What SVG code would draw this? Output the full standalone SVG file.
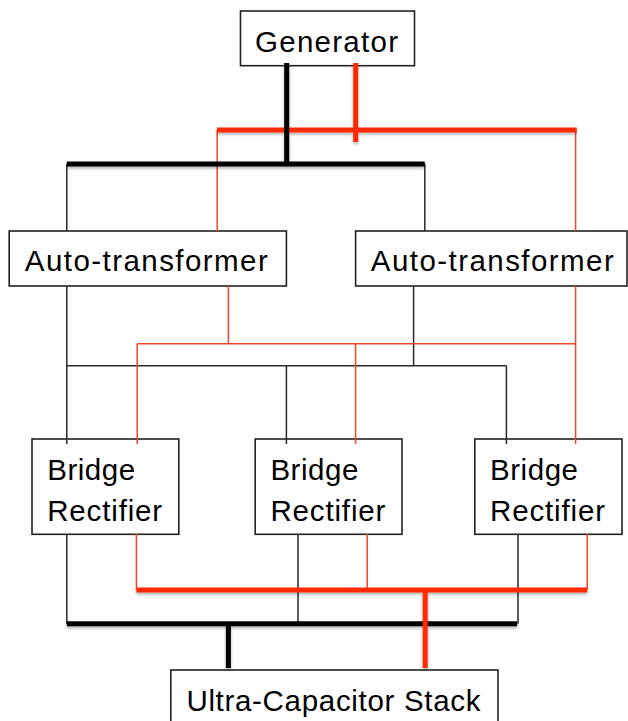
<svg xmlns="http://www.w3.org/2000/svg" width="628" height="721" viewBox="0 0 628 721">
  <style>
    .box { fill: #ffffff; stroke: #222222; stroke-width: 1.6; }
    .lbl { font-family: "Liberation Sans", Arial, sans-serif; font-size: 29.5px; fill: #000000; }
    .thinB { fill: none; stroke: #2a2a2a; stroke-width: 1.5; }
    .thinR { fill: none; stroke: #f2452a; stroke-width: 1.5; }
    .thickB { fill: none; stroke: #000000; stroke-width: 5; }
    .thickR { fill: none; stroke: #ff2a00; stroke-width: 5; }
  </style>
  <defs>
    <filter id="shadow" x="-10%" y="-50%" width="120%" height="200%">
      <feDropShadow dx="0" dy="2" stdDeviation="1.5" flood-color="#000000" flood-opacity="0.3"/>
    </filter>
  </defs>
  <rect width="628" height="721" fill="#ffffff"/>

  <!-- blocks -->
  <g id="generator">
    <rect class="box" x="240.5" y="11" width="174" height="54.7"/>
    <text class="lbl" x="255" y="52" textLength="143">Generator</text>
  </g>
  <g id="autotransformer-1">
    <rect class="box" x="9.2" y="231" width="277.2" height="55"/>
    <text class="lbl" x="24.8" y="271" textLength="243">Auto-transformer</text>
  </g>
  <g id="autotransformer-2">
    <rect class="box" x="355.6" y="231" width="271.4" height="55"/>
    <text class="lbl" x="370.8" y="271" textLength="243">Auto-transformer</text>
  </g>
  <g id="rectifier-1">
    <rect class="box" x="32" y="439" width="146.8" height="95.3"/>
    <text class="lbl" x="47.2" y="480" textLength="88">Bridge</text>
    <text class="lbl" x="47.2" y="521" textLength="115">Rectifier</text>
  </g>
  <g id="rectifier-2">
    <rect class="box" x="255.2" y="439" width="146.8" height="95.3"/>
    <text class="lbl" x="270.4" y="480" textLength="88">Bridge</text>
    <text class="lbl" x="270.4" y="521" textLength="115">Rectifier</text>
  </g>
  <g id="rectifier-3">
    <rect class="box" x="474.8" y="439" width="147.2" height="95.3"/>
    <text class="lbl" x="490" y="480" textLength="88">Bridge</text>
    <text class="lbl" x="490" y="521" textLength="115">Rectifier</text>
  </g>
  <g id="ultracap-stack">
    <rect class="box" x="170.8" y="670" width="327.2" height="60"/>
    <text class="lbl" x="186.4" y="711" textLength="294">Ultra-Capacitor Stack</text>
  </g>

  <!-- wiring -->
  <g id="connectors">
    <path class="thinB" d="M66.8 164V231 M424.8 164V231 M66.8 286V444 M413.6 286V365.7 M66.8 365.7H506.4 M286.4 365.7V444 M506.4 365.7V444 M66.8 534V623.7 M298 534V623.7 M518 534V623.7"/>
    <path class="thinR" d="M217.2 130V231 M575.6 130V231 M228.4 286V343.7 M137.2 343.7H575.6 M575.6 286V444 M137.2 343.7V444 M355.6 343.7V444 M136.4 534V590 M367.2 534V590 M587.2 534V590"/>
    <g filter="url(#shadow)">
      <path class="thickR" d="M355.7 63V142 M217 130H576.7"/>
      <path class="thickB" d="M286.7 63V164 M66.8 164H424.8"/>
      <path class="thickB" d="M66.8 623.7H517.2 M228.4 623.7V668"/>
      <path class="thickR" d="M136.4 590H587.2 M425.2 590V668"/>
    </g>
  </g>
</svg>
